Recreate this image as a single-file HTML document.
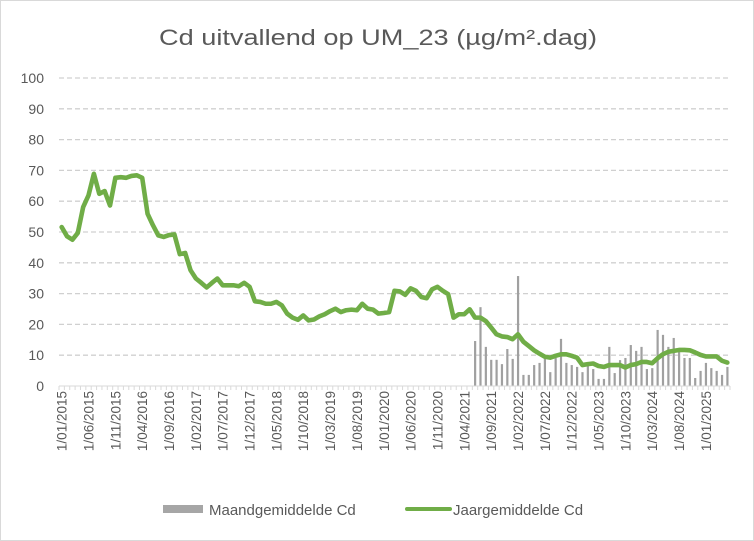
<!DOCTYPE html>
<html><head><meta charset="utf-8"><style>
html,body{margin:0;padding:0;background:#fff;}
svg{display:block;font-family:"Liberation Sans",sans-serif;}
</style></head><body>
<svg id="chart" width="754" height="541" viewBox="0 0 754 541">
<rect x="0.5" y="0.5" width="753" height="540" fill="#fff" stroke="#d9d9d9"/>
<text x="378" y="45" text-anchor="middle" font-size="22" fill="#595959" textLength="438" lengthAdjust="spacingAndGlyphs">Cd uitvallend op UM_23 (µg/m².dag)</text>
<g id="grid"></g>
<g id="yaxis"></g>
<g id="bars"></g>
<g id="xaxis"></g>
<g id="line"></g>
<g>
<rect x="163" y="505" width="40" height="8" fill="#a6a6a6"/>
<text x="209" y="515" font-size="15" fill="#595959">Maandgemiddelde Cd</text>
<line x1="407" y1="509" x2="450" y2="509" stroke="#70ad47" stroke-width="4" stroke-linecap="round"/>
<text x="453" y="515" font-size="15" fill="#595959">Jaargemiddelde Cd</text>
</g>
</svg>
<script>
const annual = [51.6,48.6,47.5,49.7,58.1,61.9,68.9,62.4,63.3,58.6,67.6,67.8,67.6,68.2,68.4,67.6,55.9,52.2,48.9,48.4,49.0,49.2,42.8,43.2,37.6,34.9,33.5,32.0,33.5,34.9,32.7,32.7,
32.7,32.4,33.5,32.2,27.5,27.3,26.7,26.7,27.3,26.2,23.5,22.2,21.5,22.9,21.3,21.6,22.6,23.3,24.3,25.1,24.0,24.6,24.8,24.6,26.7,25.1,24.8,23.5,23.7,24.0,
30.9,30.7,29.6,31.7,30.9,28.9,28.5,31.4,32.2,30.9,29.8,22.2,23.3,23.3,24.9,
22.2,22.2,21.1,19.0,16.8,16.1,15.9,15.2,16.8,14.4,13.0,11.6,10.5,9.5,9.2,9.8,10.3,10.3,9.8,9.2,6.8,7.1,7.3,6.5,
6.2,6.8,6.8,6.8,6.0,6.8,7.1,7.8,7.8,7.4,9.0,10.3,11.1,11.4,11.7,11.7,11.6,10.9,10.1,9.6,9.6,9.6,8.2,7.6];
const barStartMonth = 77;
const monthly = [14.6,25.6,12.7,8.5,8.5,7.1,12.0,8.8,35.7,3.6,3.6,6.8,7.5,8.8,4.5,9.1,15.3,7.5,6.8,6.2,4.5,6.8,5.5,
2.3,2.3,12.7,4.2,8.4,9.1,13.3,11.4,12.7,5.5,5.8,18.2,16.6,12.7,15.6,11.4,9.1,9.1,2.6,4.9,7.5,5.8,4.9,3.6,6.2];
const yTicks = [0,10,20,30,40,50,60,70,80,90,100];
const startYear = 2015, labelEvery = 5;

const NS="http://www.w3.org/2000/svg";
const X0=59, X1=730, Y0=386, Y1=78, N=annual.length;
const w=(X1-X0)/N;
const xs=i=>X0+(i+0.5)*w;
const ys=v=>Y0-(v/100)*(Y0-Y1);
function mk(tag,attrs,parent){const e=document.createElementNS(NS,tag);for(const k in attrs)e.setAttribute(k,attrs[k]);parent.appendChild(e);return e;}
const grid=document.getElementById('grid'),yax=document.getElementById('yaxis'),xax=document.getElementById('xaxis'),barsG=document.getElementById('bars'),lineG=document.getElementById('line');
yTicks.forEach(t=>{
  if(t>0){const g=mk('line',{x1:X0,x2:X1,y1:ys(t),y2:ys(t),stroke:'#d0d0d0','stroke-width':1.3,'stroke-dasharray':'5 3'},grid);
  
  }
  const tx=mk('text',{x:44,y:ys(t)+5,'text-anchor':'end','font-size':14,fill:'#595959'},yax);
  tx.textContent=t;
  
  
});
monthly.forEach((v,k)=>{
  const i=barStartMonth+k;
  const r=mk('rect',{x:xs(i)-1,y:ys(v),width:2.2,height:Y0-ys(v),fill:'#a0a0a0'},barsG);
  
  
});
const ax=mk('line',{x1:X0,x2:X1,y1:Y0,y2:Y0,stroke:'#d9d9d9','stroke-width':1},xax);


for(let i=0;i<=N;i++){
  const tk=mk('line',{x1:X0+i*w,x2:X0+i*w,y1:Y0,y2:Y0+4,stroke:'#d9d9d9','stroke-width':1},xax);
  
  
}
for(let i=0;i<N;i+=labelEvery){
  const m=i%12+1, y=startYear+Math.floor(i/12);
  const lbl='1/'+String(m).padStart(2,'0')+'/'+y;
  const x=xs(i)+5, yy=391;
  const tx=mk('text',{x:x,y:yy,'text-anchor':'end','font-size':13.5,fill:'#595959',transform:`rotate(-90 ${x} ${yy})`},xax);
  tx.textContent=lbl;
  
  
}
const pts=annual.map((v,i)=>xs(i).toFixed(2)+','+ys(v).toFixed(2)).join(' ');
const pl=mk('polyline',{points:pts,fill:'none',stroke:'#70ad47','stroke-width':4.6,'stroke-linejoin':'round','stroke-linecap':'round'},lineG);


</script>
</body></html>
